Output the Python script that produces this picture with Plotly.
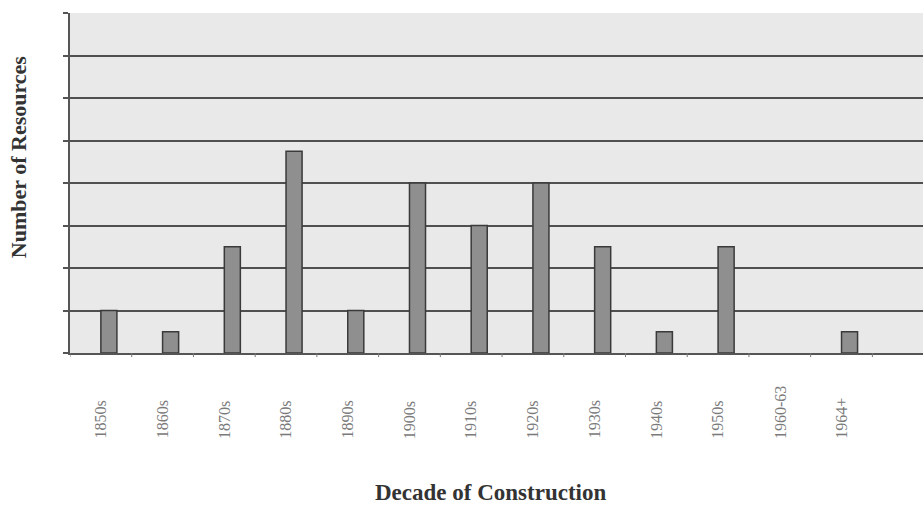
import plotly.graph_objects as go

# Resources by decade of construction
decades = ["1850s", "1860s", "1870s", "1880s", "1890s", "1900s", "1910s",
           "1920s", "1930s", "1940s", "1950s", "1960-63", "1964+"]
counts = [4, 2, 10, 19, 4, 16, 12, 16, 10, 2, 10, 0, 2]

y_max = 32
y_step = 4

fig = go.Figure()
fig.add_trace(go.Bar(
    x=list(range(len(decades))),
    y=counts,
    offset=0,
    width=0.26,
    marker=dict(color="#8f8f8f",
                line=dict(color="#3a3a3a",
                          width=[1.5 if c > 0 else 0 for c in counts])),
    showlegend=False,
))

# decade labels, rotated and aligned at their start below the axis
label_annotations = [
    dict(text=d, textangle=-90, xref="x", yref="paper", x=i, y=-0.258,
         xanchor="center", yanchor="bottom", showarrow=False,
         font=dict(family="Liberation Serif", size=16, color="#7a7a7a"))
    for i, d in enumerate(decades)
]

fig.update_layout(
    width=923, height=510,
    margin=dict(l=70, r=0, t=13, b=157),
    paper_bgcolor="white",
    plot_bgcolor="#e9e9e9",
    font=dict(family="Liberation Serif", color="#333"),
    xaxis=dict(
        range=[-0.5, 13.32],
        showticklabels=False,
        ticks="", showgrid=False, zeroline=False,
        showline=True, linecolor="#555", linewidth=1.5,
    ),
    yaxis=dict(
        range=[0, y_max], dtick=y_step,
        showticklabels=False,
        ticks="outside", ticklen=5, tickcolor="#555", tickwidth=1.5,
        showgrid=True, gridcolor="#505050", gridwidth=2,
        zeroline=False, showline=True, linecolor="#555", linewidth=1.5,
    ),
    annotations=label_annotations + [
        dict(text="<b>Number of Resources</b>", textangle=-90,
             xref="paper", yref="paper", x=-0.061, y=0.576,
             xanchor="center", yanchor="middle", showarrow=False,
             font=dict(family="Liberation Serif", size=22, color="#333")),
        dict(text="<b>Decade of Construction</b>",
             xref="paper", yref="paper", x=0.493, y=-0.41,
             xanchor="center", yanchor="middle", showarrow=False,
             font=dict(family="Liberation Serif", size=23, color="#333")),
    ],
)

# small boundary ticks between categories on the x axis
for i in range(len(decades) + 1):
    fig.add_shape(type="line", xref="x", yref="paper",
                  x0=i - 0.5, x1=i - 0.5, y0=0, y1=-0.012,
                  line=dict(color="#777", width=1))

fig.write_html("out.html")
